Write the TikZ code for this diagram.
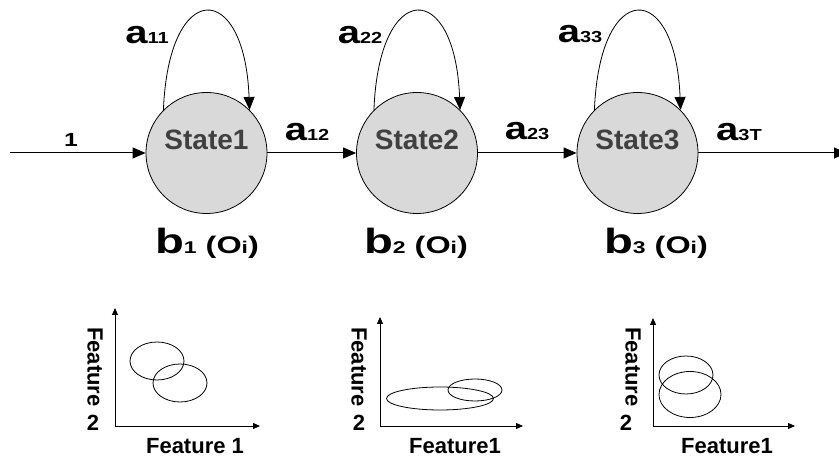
\documentclass[tikz,border=0pt]{standalone}
\usepackage{fontspec}
\setmainfont{Liberation Sans}
\usetikzlibrary{arrows.meta}

\definecolor{stategray}{RGB}{217,217,217}
\definecolor{labelgray}{RGB}{64,64,64}

% transition and emission labels (set wide)
\newcommand{\fsz}[1]{\fontsize{#1}{#1}\selectfont}
\newcommand{\aij}[1]{\scalebox{1.25}[1]{{\fsz{32}a}{\fsz{16}#1}}}
\newcommand{\bobs}[1]{\scalebox{1.35}[1]{{\fsz{35}b}{\fsz{17}#1}{\fsz{24}\ (O}{\fsz{17}i}{\fsz{24})}}}

\begin{document}
\begin{tikzpicture}[x=1pt,y=1pt,
    state/.style={circle,draw,line width=0.8pt,fill=stategray,minimum size=121pt,inner sep=0pt,
      text=labelgray,text height=20pt,text depth=26pt,font=\fsz{28}\bfseries},
    link/.style={-{Triangle[length=13pt,width=11pt]},line width=1pt},
    axis/.style={-{Triangle[length=7pt,width=6pt]},line width=0.8pt},
    blob/.style={line width=0.8pt},
    lbl/.style={inner sep=0pt,font=\bfseries},
    feat/.style={inner sep=0pt,font=\fsz{22}\bfseries}]
  \useasboundingbox (0,0) rectangle (839,457);

  % states
  \node[state] (s1) at (206.5,304) {State1};
  \node[state] (s2) at (417,304) {State2};
  \node[state] (s3) at (637.5,304) {State3};

  % self transitions
  \foreach \s in {s1,s2,s3}
    \draw[link,line width=0.8pt] (\s.135) .. controls +(5,131) and +(-5,131) .. (\s.45);

  % chain
  \coordinate (in) at (10,304);
  \coordinate (out) at (847,304);
  \draw[link] (in) -- (s1);
  \draw[link] (s1) -- (s2);
  \draw[link] (s2) -- (s3);
  \draw[link] (s3) -- (out);

  % transition probabilities
  \node[lbl] (p0) at (71,317) {\scalebox{1.3}[1]{\fsz{19}1}};
  \node[lbl] (a11) at (147,422) {\aij{11}};
  \node[lbl] (a22) at (360,422) {\aij{22}};
  \node[lbl] (a33) at (580,423) {\aij{33}};
  \node[lbl] (a12) at (307,325) {\aij{12}};
  \node[lbl] (a23) at (527,326) {\aij{23}};
  \node[lbl] (a3T) at (739,325) {\aij{3T}};

  % emission densities
  \node[lbl] (b1) at (207,214) {\bobs{1}};
  \node[lbl] (b2) at (416,214) {\bobs{2}};
  \node[lbl] (b3) at (656,214) {\bobs{3}};

  % feature spaces
  \foreach \x/\y/\e/\n in {115/149/260/1, 380/140/523/2, 653/139/795/3}{
    \coordinate (o\n) at (\x,31);
    \draw[axis] (o\n) -- (\x,\y);
    \draw[axis] (o\n) -- (\e,31);
  }
  \node[feat,rotate=-90] (fy1) at (95,90) {Feature};
  \node[feat,rotate=-90] (fy2) at (359,90) {Feature};
  \node[feat,rotate=-90] (fy3) at (633,90) {Feature};
  \node[feat] (n1) at (93,34) {2};
  \node[feat] (n2) at (359,34) {2};
  \node[feat] (n3) at (626,34) {2};
  \node[feat] (fx1) at (195,11) {Feature 1};
  \node[feat] (fx2) at (455,11) {Feature1};
  \node[feat] (fx3) at (727,11) {Feature1};

  % clusters
  \draw[blob] (157,96) ellipse (27pt and 19pt);
  \draw[blob] (180,74) ellipse (27pt and 19pt);
  \draw[blob] (440,58.5) ellipse (53.5pt and 11.5pt);
  \draw[blob] (475,67) ellipse (27pt and 11pt);
  \draw[blob] (686,82) ellipse (27pt and 19pt);
  \draw[blob] (690,62.5) ellipse (31pt and 23pt);
\end{tikzpicture}
\end{document}
